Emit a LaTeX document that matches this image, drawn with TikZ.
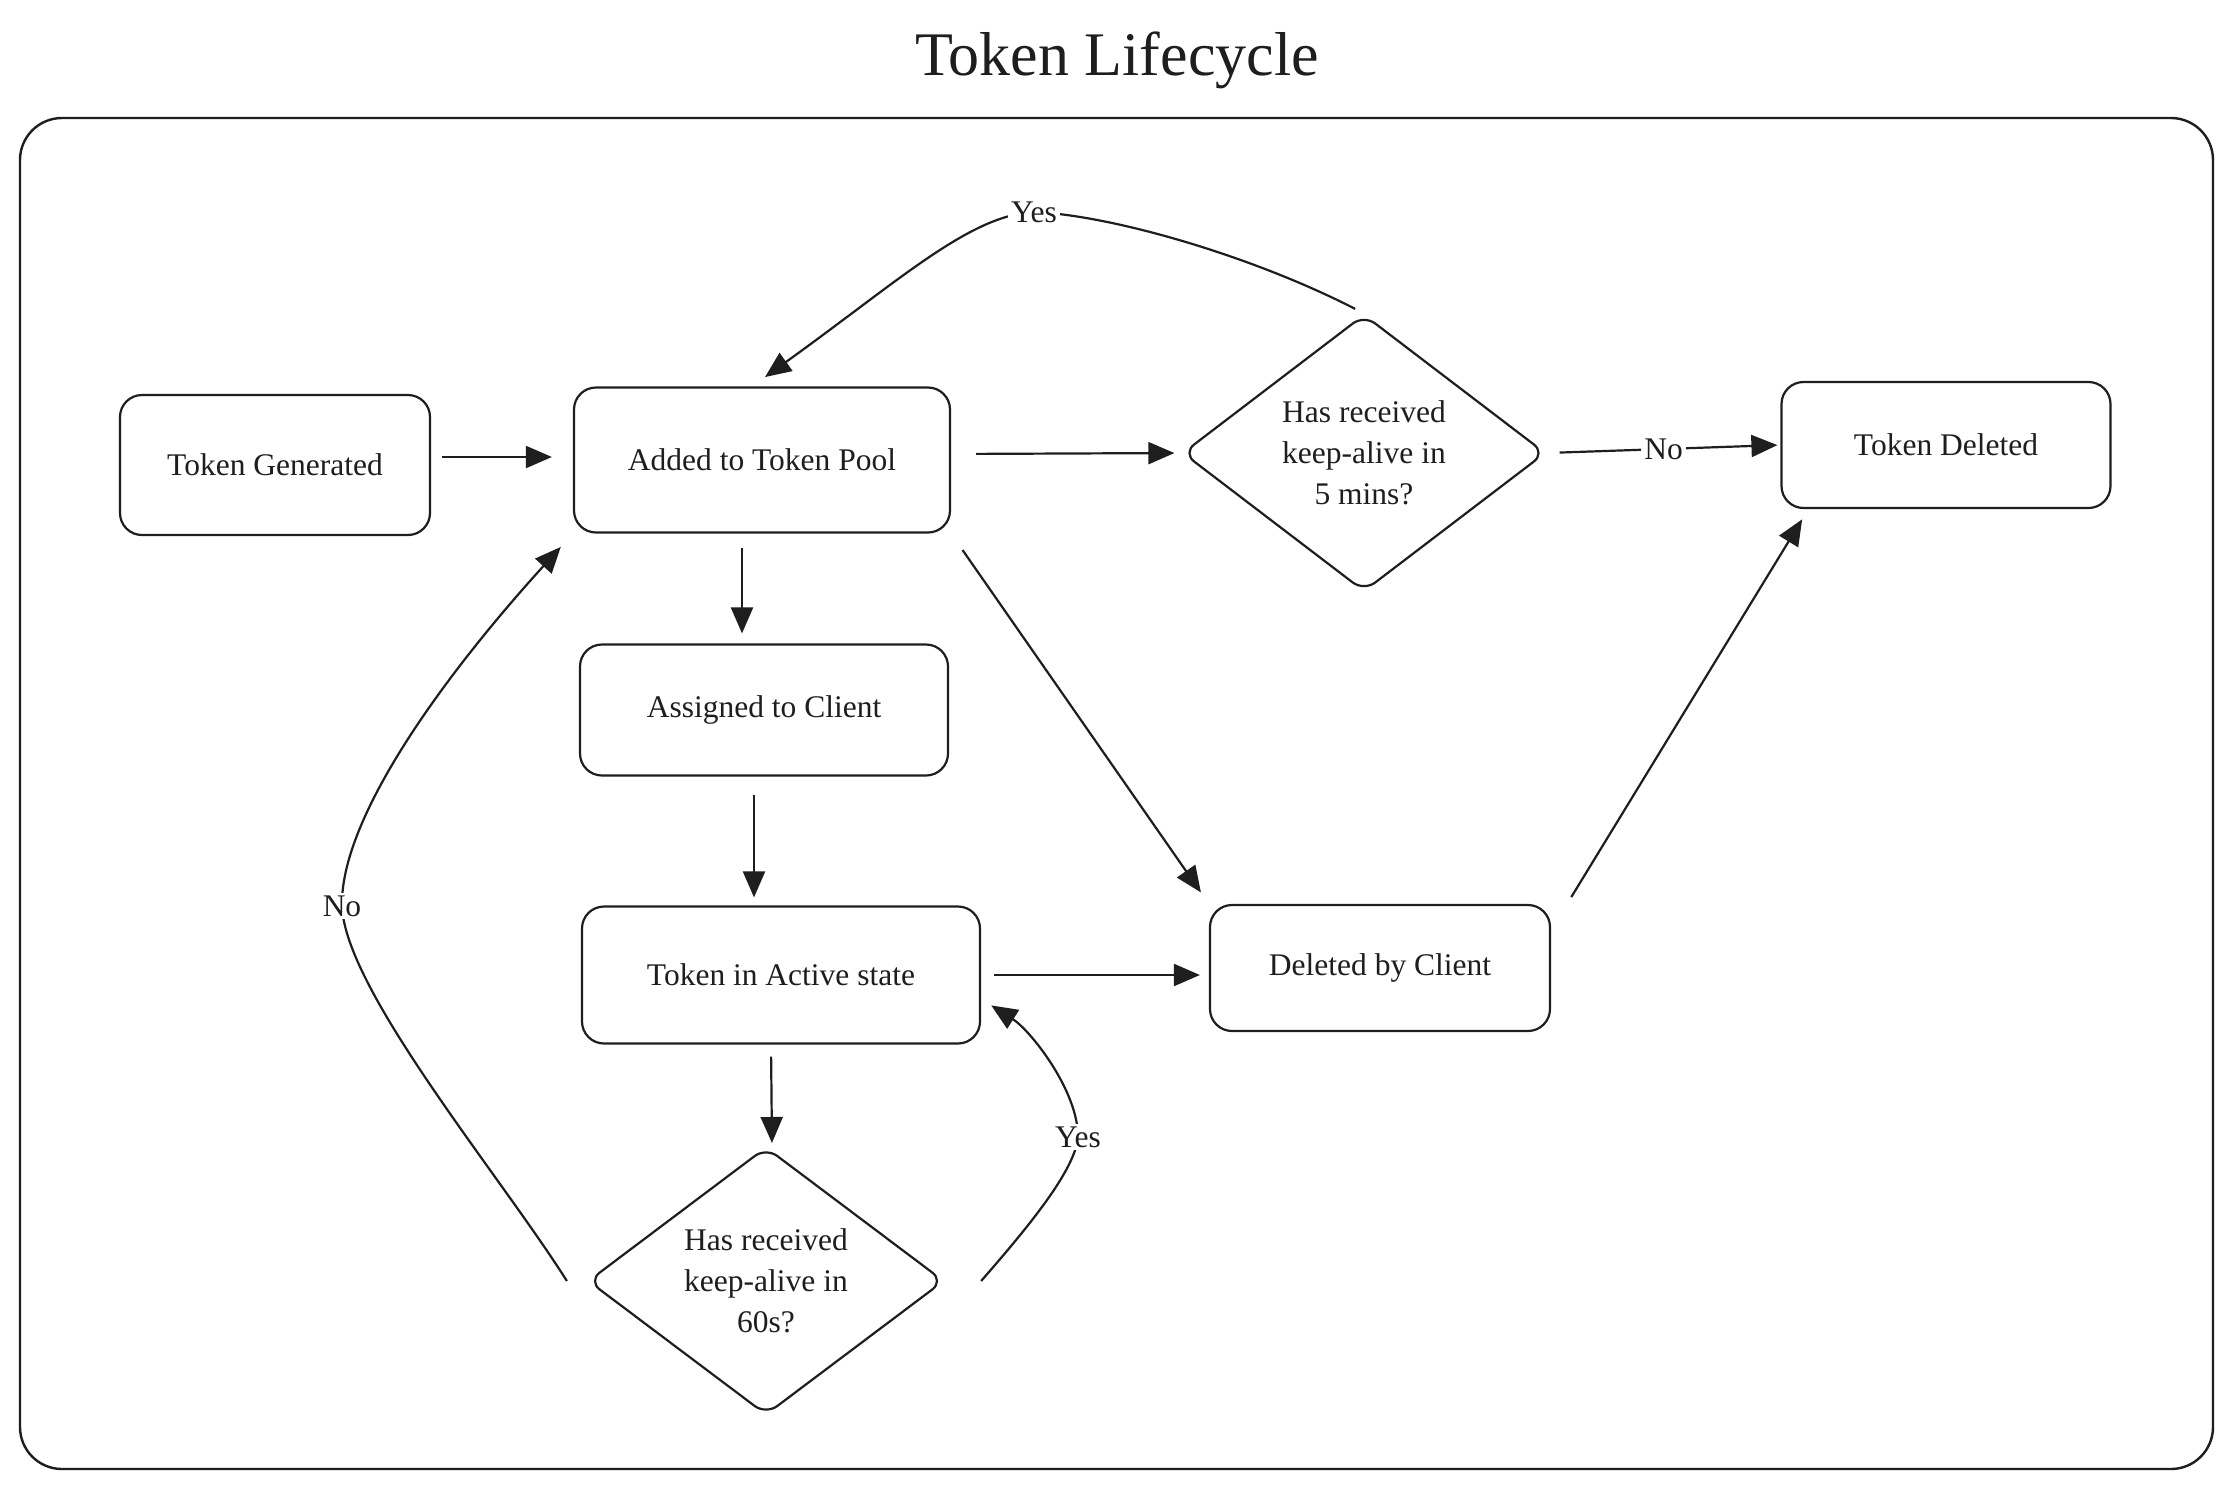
\documentclass[tikz,border=0pt]{standalone}
\usepackage{fontspec}
\setmainfont{Liberation Serif}
\usetikzlibrary{arrows.meta,shapes.geometric}
\definecolor{ink}{HTML}{1E1E1E}
\newcommand{\tlnodefont}{\fontsize{15.75}{20.5}\selectfont}
\tikzset{
  box/.style={draw=ink, line width=1.1pt, rounded corners=11pt, align=center, inner sep=0pt, font=\tlnodefont, text=ink},
  diam/.style={draw=ink, line width=1.1pt, shape=diamond, rounded corners=7pt, align=center, inner sep=0pt, font=\tlnodefont, text=ink},
  conn/.style={draw=ink, line width=1.1pt, -{Triangle[length=13pt,width=11pt]}},
  lbl/.style={fill=white, inner sep=1.5pt, font=\tlnodefont, text=ink},
}
\begin{document}
\begin{tikzpicture}[x=0.5pt,y=-0.5pt]
\useasboundingbox (0,0) rectangle (2234,1489);
\fill[white] (0,0) rectangle (2234,1489);

\node[font=\fontsize{31}{36}\selectfont, anchor=base, text=ink] (title) at (1117,75) {Token Lifecycle};

\draw[ink, line width=1.2pt, rounded corners=21pt] (20,118) rectangle (2213,1469);

\node[box, minimum width=155pt, minimum height=70pt] (tg) at (275,465) {Token Generated};
\node[box, minimum width=188pt, minimum height=72.5pt] (pool) at (762,460) {Added to Token Pool};
\node[diam, minimum width=181.5pt, minimum height=138.5pt] (d5) at (1364,453) {Has received\\keep-alive in\\5 mins?};
\node[box, minimum width=164.5pt, minimum height=63pt] (td) at (1946,445) {Token Deleted};
\node[box, minimum width=184pt, minimum height=65.5pt] (assigned) at (764,710) {Assigned to Client};
\node[box, minimum width=199pt, minimum height=68.5pt] (active) at (781,975) {Token in Active state};
\node[box, minimum width=170pt, minimum height=63pt] (dbc) at (1380,968) {Deleted by Client};
\node[diam, minimum width=178pt, minimum height=131.5pt] (d60) at (766,1281) {Has received\\keep-alive in\\60s?};

\draw[conn, shorten <=5.5pt, shorten >=10.5pt] ([yshift=4pt]tg.east) -- ([yshift=1.5pt]pool.west);
\draw[conn, shorten <=12.5pt, shorten >=3.5pt] ([yshift=3pt]pool.east) -- (d5.west);
\draw[conn, shorten <=6.5pt, shorten >=1.5pt] (d5.east) -- node[lbl]{No} (td.west);
\draw[conn, shorten <=7pt, shorten >=5pt] ([xshift=-10pt]pool.south) -- ([xshift=-10pt]pool.south |- assigned.north);
\draw[conn, shorten <=9pt, shorten >=4pt] ([xshift=-5pt]assigned.south) -- ([xshift=-5pt]assigned.south |- active.north);
\draw[conn, shorten <=6pt, shorten >=1.5pt] ([xshift=-5pt]active.south) -- ([xshift=3pt]d60.north);
\draw[conn, shorten <=6.5pt, shorten >=4.5pt] (active.east) -- (active.east -| dbc.west);
\draw[conn, shorten <=10pt, shorten >=7pt] (pool.south east) -- (dbc.north west);
\draw[conn, shorten <=4pt, shorten >=6pt] ([xshift=8pt]dbc.north east) -- ([xshift=14pt]td.south west);

\draw[conn, shorten <=5pt, shorten >=8pt] (d5.north) .. controls (1250,255) and (1110,215) .. (1034,212) node[lbl]{Yes} .. controls (970,215) and (900,280) .. ([xshift=-5pt]pool.north);
\draw[conn, shorten >=9pt] ([xshift=-10pt]d60.west) .. controls (500,1175) and (345,990) .. (342,906) node[lbl]{No} .. controls (340,820) and (440,680) .. (pool.south west);
\draw[conn, shorten >=6pt] ([xshift=18pt]d60.east) .. controls (1030,1225) and (1075,1170) .. (1078,1137) node[lbl]{Yes} .. controls (1078,1090) and (1030,1030) .. ([yshift=-12pt]active.east);
\end{tikzpicture}
\end{document}
